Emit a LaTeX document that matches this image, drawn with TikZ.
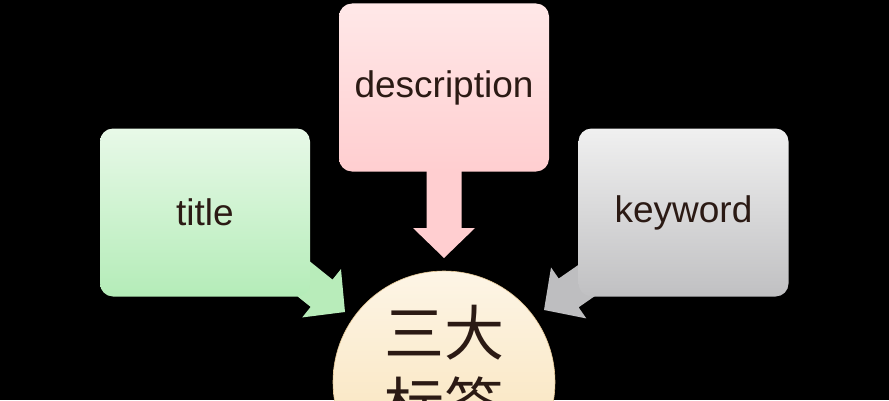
\documentclass[tikz,border=0pt]{standalone}
\usepackage{fontspec}
\setmainfont{Liberation Sans}
\newfontfamily\cjk{Noto Sans CJK SC}
\definecolor{txt}{HTML}{2B1A14}
\begin{document}
\begin{tikzpicture}[x=1pt,y=1pt,
  box/.style={rounded corners=13pt,minimum width=210pt,minimum height=168pt,font=\fontsize{37}{40}\selectfont,text=txt}]
\useasboundingbox[fill=black] (0,0) rectangle (889,400);
\coordinate (gtip) at (345,88);
\coordinate (ktip) at (544,90);
\coordinate (dtip) at (444,142);
\begin{scope}[shift={(gtip)},rotate=-38.7]
  \fill[fill={rgb,255:red,184;green,236;blue,186}] (0,0) -- (-30,31) -- (-30,17.5) -- (-90,17.5) -- (-90,-17.5) -- (-30,-17.5) -- (-30,-31) -- cycle;
\end{scope}
\begin{scope}[shift={(ktip)},rotate=214.7]
  \fill[fill={rgb,255:red,190;green,190;blue,192}] (0,0) -- (-30,31) -- (-30,17.5) -- (-90,17.5) -- (-90,-17.5) -- (-30,-17.5) -- (-30,-31) -- cycle;
\end{scope}
\begin{scope}[shift={(dtip)},rotate=-90]
  \fill[fill={rgb,255:red,255;green,206;blue,208}] (0,0) -- (-30,31) -- (-30,17.5) -- (-100,17.5) -- (-100,-17.5) -- (-30,-17.5) -- (-30,-31) -- cycle;
\end{scope}
\node[box,top color={rgb,255:red,232;green,249;blue,232},bottom color={rgb,255:red,180;green,236;blue,184}] (title) at (205,187.5) {title};
\node[box,top color={rgb,255:red,255;green,232;blue,232},bottom color={rgb,255:red,255;green,206;blue,208}] (desc) at (444,312.5) {description};
\node[box,top color={rgb,255:red,240;green,240;blue,240},bottom color={rgb,255:red,192;green,192;blue,194}] (kw) at (683.5,187.5) {keyword};
\node[circle,minimum size=222pt,top color={rgb,255:red,253;green,245;blue,230},bottom color={rgb,255:red,248;green,224;blue,178},draw={rgb,255:red,230;green,200;blue,150},line width=0.6pt] (tags) at (444,18) {};
\node[font=\cjk\fontsize{60}{72}\selectfont,text=txt,align=center,anchor=north,inner sep=0pt] (tagtxt) at (444,95) {三大\\标签};
\end{tikzpicture}
\end{document}
